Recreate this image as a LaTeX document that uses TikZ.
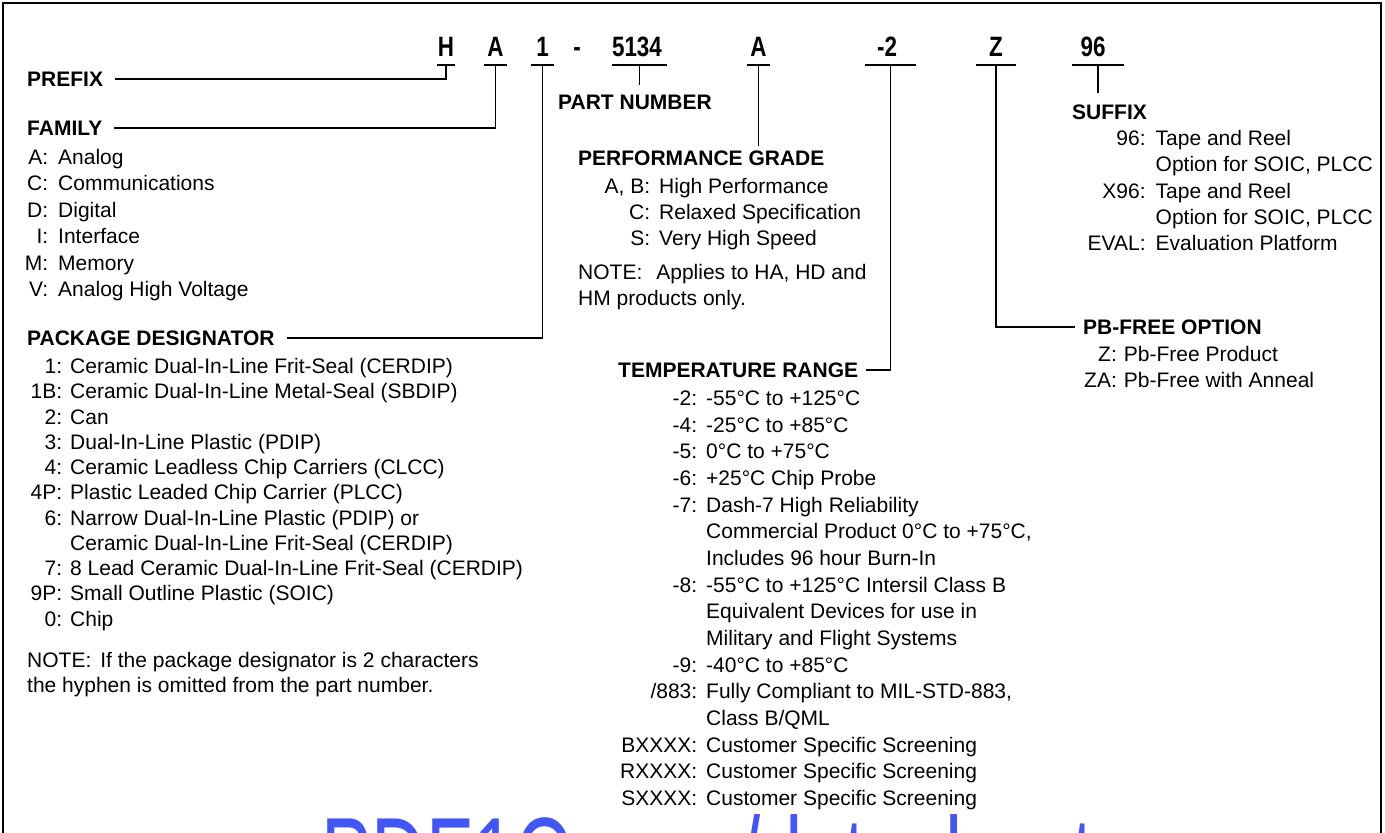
\documentclass[tikz,border=0pt]{standalone}
\usepackage{fontspec}
\usepackage{graphicx}
\setmainfont{Liberation Sans}
\usetikzlibrary{positioning}
\definecolor{wmblue}{RGB}{66,86,245}

\tikzset{
  hdr/.style={font=\bfseries\fontsize{21}{25}\selectfont, inner sep=0pt, anchor=base west},
  code/.style={font=\bfseries\fontsize{28}{32}\selectfont, inner sep=0pt, anchor=base},
  lst/.style={font=\fontsize{21}{#1}\selectfont, inner sep=0pt, anchor=base west},
  wire/.style={line width=1.8pt},
}
\newcommand{\narrow}[1]{\scalebox{0.8}[1]{#1}}

\begin{document}
\begin{tikzpicture}[x=1pt,y=-1pt]
\useasboundingbox (0,0) rectangle (1385,833);
\clip (0,0) rectangle (1385,833);
\draw[line width=2.6pt] (3,3) rectangle (1381,900);

% ordering code
\node[code] (cH) at (446,56) {\narrow{H}};
\node[code] (cA) at (495.5,56) {\narrow{A}};
\node[code] (c1) at (542.5,56) {\narrow{1}};
\node[code] (cDash) at (577,56) {\narrow{-}};
\node[code] (cPart) at (637,56) {\narrow{5134}};
\node[code] (cGrade) at (758.5,56) {\narrow{A}};
\node[code] (cTemp) at (887,56) {\narrow{-2}};
\node[code] (cPb) at (996,56) {\narrow{Z}};
\node[code] (cSfx) at (1093,56) {\narrow{96}};

\coordinate (uH) at (446,65);
\coordinate (uA) at (495.5,65);
\coordinate (u1) at (542.5,65);
\coordinate (uPart) at (639.5,65);
\coordinate (uGrade) at (758.5,65);
\coordinate (uTemp) at (890.5,65);
\coordinate (uPb) at (996,65);
\coordinate (uSfx) at (1098,65);
\foreach \u/\w in {uH/9,uA/11.5,u1/11.5,uPart/27.5,uGrade/11.5,uTemp/25.5,uPb/20,uSfx/26}
  \draw[wire] ([xshift=-\w pt]\u) -- ([xshift=\w pt]\u);

% headings
\node[hdr] (prefix) at (27,86.5) {PREFIX};
\node[hdr] (family) at (27,135.5) {FAMILY};
\node[hdr] (pkg) at (27,345.5) {PACKAGE DESIGNATOR};
\node[hdr] (partno) at (558,109.5) {PART NUMBER};
\node[hdr] (grade) at (578,165.5) {PERFORMANCE GRADE};
\node[hdr] (temp) at (618,377.5) {TEMPERATURE RANGE};
\node[hdr] (sfx) at (1072,119.5) {SUFFIX};
\node[hdr] (pbfree) at (1083,334.5) {PB-FREE OPTION};

% leaders
\draw[wire] ([xshift=12pt]prefix.east) -| (uH);
\draw[wire] ([xshift=12pt]family.east) -| (uA);
\draw[wire] ([xshift=12pt]pkg.east) -| (u1);
\draw[wire] (uPart) -- ([yshift=10pt]uPart |- partno.north);
\draw[wire] (uGrade) -- ([yshift=5pt]uGrade |- grade.north);
\draw[wire] ([xshift=8pt]temp.east) -| (uTemp);
\draw[wire] (uPb) |- ([xshift=-8pt]pbfree.west);
\draw[wire] (uSfx) -- ([yshift=12pt]uSfx |- sfx.north);

% lists
\node[lst=26.4] (famlist) at (24.7,164.5) {\begin{tabular}[t]{@{}r@{\hspace{10pt}}l@{}}
A: & Analog\\
C: & Communications\\
D: & Digital\\
I: & Interface\\
M: & Memory\\
V: & Analog High Voltage
\end{tabular}};

\node[lst=25.25] (pkglist) at (30.5,373.5) {\begin{tabular}[t]{@{}r@{\hspace{8pt}}l@{}}
1: & Ceramic Dual-In-Line Frit-Seal (CERDIP)\\
1B: & Ceramic Dual-In-Line Metal-Seal (SBDIP)\\
2: & Can\\
3: & Dual-In-Line Plastic (PDIP)\\
4: & Ceramic Leadless Chip Carriers (CLCC)\\
4P: & Plastic Leaded Chip Carrier (PLCC)\\
6: & Narrow Dual-In-Line Plastic (PDIP) or\\
 & Ceramic Dual-In-Line Frit-Seal (CERDIP)\\
7: & 8 Lead Ceramic Dual-In-Line Frit-Seal (CERDIP)\\
9P: & Small Outline Plastic (SOIC)\\
0: & Chip
\end{tabular}};

\node[lst=25] (pkgnote) at (27,667.5) {\begin{tabular}[t]{@{}l@{}}
NOTE:\hspace{9pt}If the package designator is 2 characters\\
the hyphen is omitted from the part number.
\end{tabular}};

\node[lst=26] (gradelist) at (604.5,193.5) {\begin{tabular}[t]{@{}r@{\hspace{9pt}}l@{}}
A, B: & High Performance\\
C: & Relaxed Specification\\
S: & Very High Speed
\end{tabular}};

\node[lst=26] (gradenote) at (578,279.5) {\begin{tabular}[t]{@{}l@{}}
NOTE:\hspace{14pt}Applies to HA, HD and\\
HM products only.
\end{tabular}};

\node[lst=26.67] (templist) at (620,405.5) {\begin{tabular}[t]{@{}r@{\hspace{9pt}}l@{}}
-2: & -55°C to +125°C\\
-4: & -25°C to +85°C\\
-5: & 0°C to +75°C\\
-6: & +25°C Chip Probe\\
-7: & Dash-7 High Reliability\\
 & Commercial Product 0°C to +75°C,\\
 & Includes 96 hour Burn-In\\
-8: & -55°C to +125°C Intersil Class B\\
 & Equivalent Devices for use in\\
 & Military and Flight Systems\\
-9: & -40°C to +85°C\\
/883: & Fully Compliant to MIL-STD-883,\\
 & Class B/QML\\
BXXXX: & Customer Specific Screening\\
RXXXX: & Customer Specific Screening\\
SXXXX: & Customer Specific Screening
\end{tabular}};

\node[lst=26.25] (sfxlist) at (1087.5,145.5) {\begin{tabular}[t]{@{}r@{\hspace{10pt}}l@{}}
96: & Tape and Reel\\
 & Option for SOIC, PLCC\\
X96: & Tape and Reel\\
 & Option for SOIC, PLCC\\
EVAL: & Evaluation Platform
\end{tabular}};

\node[lst=26] (pblist) at (1084,361.5) {\begin{tabular}[t]{@{}r@{\hspace{7pt}}l@{}}
Z: & Pb-Free Product\\
ZA: & Pb-Free with Anneal
\end{tabular}};

% watermark, cut off by the page edge
\node[anchor=base west, inner sep=0pt, text=wmblue, font=\fontsize{120}{120}\selectfont] (wmark) at (321,901) {\scalebox{0.633}[1]{PDF1Q.com/datasheet}};
\end{tikzpicture}
\end{document}
